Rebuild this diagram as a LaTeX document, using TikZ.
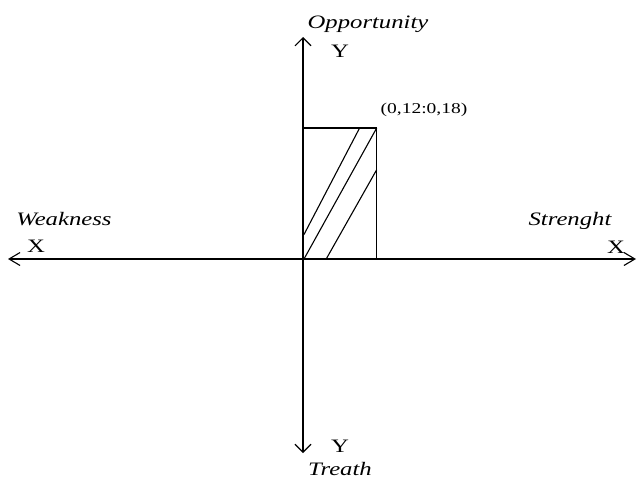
\documentclass[tikz,border=0pt]{standalone}
\usepackage{fontspec}
\setmainfont{Liberation Serif}[FakeStretch=1.3]
\usetikzlibrary{arrows.meta}

\begin{document}
\begin{tikzpicture}[x=1pt,y=-1pt,line width=1.1pt,
 word/.style={font=\fontsize{19}{19}\selectfont\itshape,anchor=base,inner sep=0pt},
 axname/.style={font=\fontsize{19}{19}\selectfont,anchor=base,inner sep=0pt}]
\useasboundingbox (0,0) rectangle (638,479);
% axes
\coordinate (ytop) at (303,37);
\coordinate (ybot) at (303,453);
\coordinate (xlft) at (8,259);
\coordinate (xrgt) at (636,259);
\draw[{Straight Barb[length=8pt,width=16pt]}-{Straight Barb[length=8pt,width=16pt]}] (ybot) -- (ytop);
\draw[{Straight Barb[length=11pt,width=13pt]}-{Straight Barb[length=11pt,width=13pt]}] (xlft) -- (xrgt);
% labels
\node[word] (opp) at (368,28) {Opportunity};
\node[axname] (ytxt) at (340,57) {Y};
\node[word] (weak) at (64,225) {Weakness};
\node[axname] (xl) at (36,252) {X};
\node[word] (str) at (570,225) {Strenght};
\node[axname] (xr) at (616,253) {X};
\node[axname] (yb) at (340,452) {Y};
\node[word] (tre) at (340,475) {Treath};
\node[font=\fontsize{15}{15}\selectfont,anchor=base,inner sep=0pt] (pt) at (424,113) {(0,12:0,18)};
% area
\coordinate (a) at (303,259);
\coordinate (b) at (376.7,128);
\draw (a) rectangle (b);
\draw (304,234.5) -- (359.6,128);
\draw (304,259) -- (b);
\draw (326.2,259) -- (376.7,169.7);
\end{tikzpicture}
\end{document}
